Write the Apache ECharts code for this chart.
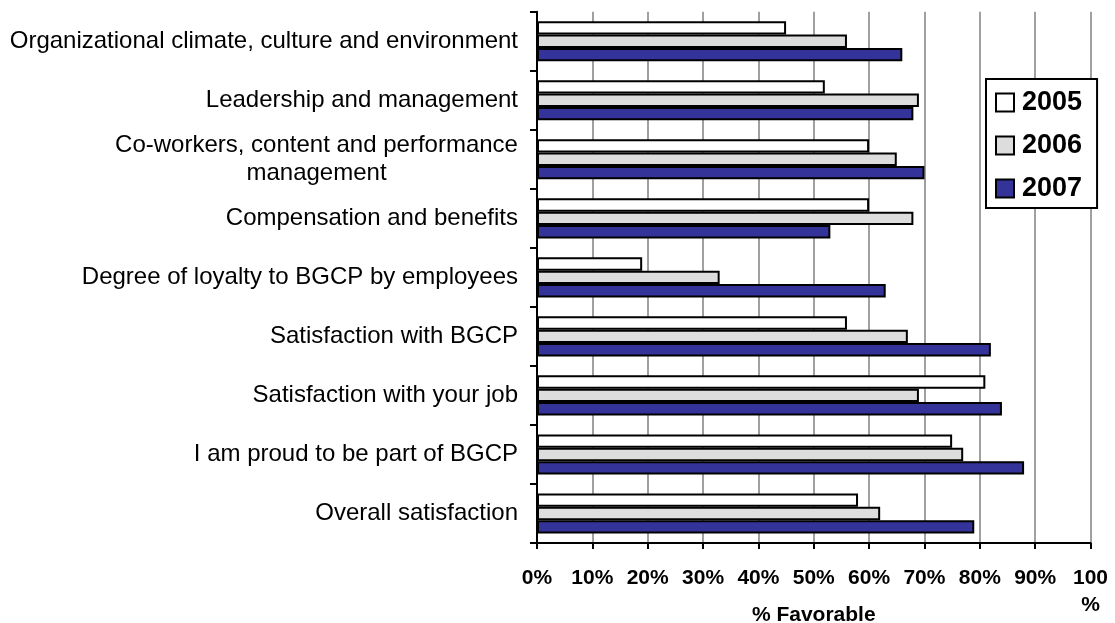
<!DOCTYPE html>
<html>
<head>
<meta charset="utf-8">
<script src="https://cdn.jsdelivr.net/npm/echarts@6/dist/echarts.min.js"></script>
<style>
  html, body { margin: 0; padding: 0; background: #fff; }
  #chart { width: 1115px; height: 623px; }
</style>
</head>
<body>
<div id="chart"></div>
<script>
// Survey topics, top to bottom
const categories = [
  'Organizational climate, culture and environment',
  'Leadership and management',
  'Co-workers, content and performance\nmanagement',
  'Compensation and benefits',
  'Degree of loyalty to BGCP by employees',
  'Satisfaction with BGCP',
  'Satisfaction with your job',
  'I am proud to be part of BGCP',
  'Overall satisfaction'
];
const years = ['2005', '2006', '2007'];
// % favorable per topic, one array per survey year
const fav2005 = [45, 52, 60, 60, 19, 56, 81, 75, 58];
const fav2006 = [56, 69, 65, 68, 33, 67, 69, 77, 62];
const fav2007 = [66, 68, 70, 53, 63, 82, 84, 88, 79];
const xTicks = [0, 10, 20, 30, 40, 50, 60, 70, 80, 90, 100];
const xTitle = '% Favorable';

const FONT = '"Liberation Sans", Arial, sans-serif';
const LABEL_SIZE = 24;

// width of the widest line of a wrapped label, so its lines can be centred
const ctx = document.createElement('canvas').getContext('2d');
ctx.font = LABEL_SIZE + 'px ' + FONT;
function lineWidth(s) { return Math.ceil(ctx.measureText(s).width); }

const rich = {};
categories.forEach((c, i) => {
  const lines = c.split('\n');
  if (lines.length > 1) {
    rich['w' + i] = {
      width: Math.max(...lines.map(lineWidth)),
      align: 'center',
      fontSize: LABEL_SIZE,
      fontFamily: FONT,
      color: '#000',
      lineHeight: 28
    };
  }
});

const colors = ['#ffffff', '#dddddd', '#333399'];
const values = [fav2005, fav2006, fav2007];

const chart = echarts.init(document.getElementById('chart'), null, { renderer: 'canvas' });
chart.setOption({
  animation: false,
  backgroundColor: '#fff',
  textStyle: { fontFamily: FONT },
  grid: { left: 537, right: 24.5, top: 11.7, bottom: 80, containLabel: false, outerBoundsMode: 'none' },
  legend: {
    orient: 'vertical',
    left: 986,
    top: 79,
    padding: [10, 15, 6, 9],
    borderColor: '#000',
    borderWidth: 2,
    backgroundColor: '#fff',
    icon: 'rect',
    itemWidth: 18,
    itemHeight: 18,
    itemGap: 16,
    data: years,
    textStyle: { fontSize: 27, fontWeight: 'bold', color: '#000', fontFamily: FONT, padding: [0, 0, 0, 3] }
  },
  xAxis: {
    type: 'value',
    min: xTicks[0],
    max: xTicks[xTicks.length - 1],
    interval: xTicks[1] - xTicks[0],
    name: xTitle,
    nameLocation: 'middle',
    nameGap: 62,
    nameMoveOverlap: false,
    nameTextStyle: { fontSize: 21, fontWeight: 'bold', color: '#000', fontFamily: FONT },
    axisLine: { show: true, lineStyle: { color: '#000', width: 2 } },
    axisTick: { show: true, length: 6, lineStyle: { color: '#000', width: 2 } },
    splitLine: { show: true, lineStyle: { color: '#a0a0a0', width: 2 } },
    axisLabel: {
      showMaxLabel: true,
      showMinLabel: true,
      margin: 22,
      fontSize: 21,
      fontWeight: 'bold',
      color: '#000',
      lineHeight: 27,
      fontFamily: FONT,
      formatter: v => (v === 100 ? '100\n%' : v + '%')
    }
  },
  yAxis: {
    type: 'category',
    inverse: true,
    data: categories,
    axisLine: { show: true, lineStyle: { color: '#000', width: 2 } },
    axisTick: { show: true, length: 7, lineStyle: { color: '#000', width: 2 } },
    splitLine: { show: false },
    axisLabel: {
      margin: 19,
      fontSize: LABEL_SIZE,
      color: '#000',
      fontFamily: FONT,
      lineHeight: 28,
      rich: rich,
      formatter: (val, idx) => {
        const lines = val.split('\n');
        if (lines.length > 1) return lines.map(l => '{w' + idx + '|' + l + '}').join('\n');
        return val;
      }
    }
  },
  series: years.map((y, i) => ({
    name: y,
    type: 'bar',
    data: values[i],
    barGap: '0%',
    barCategoryGap: '32%',
    itemStyle: { color: colors[i], borderColor: '#000', borderWidth: 2 }
  }))
});
</script>
</body>
</html>
